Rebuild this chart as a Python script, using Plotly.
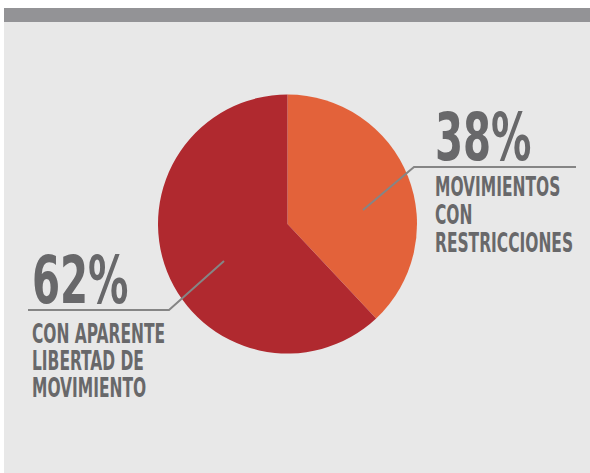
import json
import plotly.graph_objects as go

W, H = 590, 473

labels = ["MOVIMIENTOS CON RESTRICCIONES", "CON APARENTE LIBERTAD DE MOVIMIENTO"]
values = [38, 62]
pct_labels = ["38%", "62%"]
desc_right = ["MOVIMIENTOS", "CON", "RESTRICCIONES"]
desc_left = ["CON APARENTE", "LIBERTAD DE", "MOVIMIENTO"]
colors = ["#e3623a", "#b0292f"]

def px(x):
    return x / W

def py(y):
    return 1 - y / H

cx, cy, r = 287.5, 224, 129.5

fig = go.Figure(go.Pie(
    labels=labels, values=values, sort=False, direction="clockwise", rotation=0,
    marker=dict(colors=colors, line=dict(width=0)),
    textinfo="none", hoverinfo="label+percent", showlegend=False,
    domain=dict(x=[px(cx - r), px(cx + r)], y=[py(cy + r), py(cy - r)]),
))

shapes = [
    dict(type="rect", xref="paper", yref="paper", x0=px(4), x1=1, y0=0, y1=py(22),
         fillcolor="#e8e8e8", line=dict(width=0), layer="below"),
    dict(type="rect", xref="paper", yref="paper", x0=px(4), x1=1, y0=py(22), y1=py(8),
         fillcolor="#939396", line=dict(width=0), layer="below"),
]

def leader(points):
    d = "M " + " L ".join(f"{px(x)},{py(y)}" for x, y in points)
    return dict(type="path", xref="paper", yref="paper", path=d,
                line=dict(color="#858585", width=2), layer="above")

shapes.append(leader([(363, 210), (414, 167), (576, 167)]))
shapes.append(leader([(224, 261), (169, 310), (28, 310)]))

FAM = "DejaVu Sans Condensed"
TXT = "#68686a"
font_big = dict(family=FAM, size=54, color=TXT, weight="bold")
font_small = dict(family=FAM, size=20, color=TXT, weight="bold")

def ann(text, x, y, font):
    return dict(text=text, x=px(x), y=py(y), xref="paper", yref="paper",
                xanchor="left", yanchor="middle", showarrow=False, font=font, align="left")

annotations = [ann(pct_labels[0], 433, 137.5, font_big), ann(pct_labels[1], 30, 280, font_big)]
for text, yy in zip(desc_right, [187.5, 215.5, 242.5]):
    annotations.append(ann(text, 433, yy, font_small))
for text, yy in zip(desc_left, [334, 361, 387.5]):
    annotations.append(ann(text, 30, yy, font_small))

fig.update_layout(
    width=W, height=H, margin=dict(l=0, r=0, t=0, b=0),
    paper_bgcolor="#ffffff", plot_bgcolor="#ffffff",
    shapes=shapes, annotations=annotations,
)

# narrow, tall lettering like the reference's condensed display face
scales = {"big": [0.83, 1.22], "small": [0.86, 1.30]}
post = """
document.body.style.margin='0';
document.body.style.overflow='hidden';
var SC = %s;
var gd = document.querySelector('.plotly-graph-div');
function squash(){
  gd.querySelectorAll('g.annotation').forEach(function(g){
    var t = g.querySelector('text.annotation-text');
    if(!t) return;
    var fs = parseFloat(t.style.fontSize);
    var s = fs > 30 ? SC.big : SC.small;
    t.removeAttribute('transform');
    var b = t.getBBox();
    var ox = b.x, oy = b.y + b.height/2;
    t.setAttribute('transform', 'translate('+ox+','+oy+') scale('+s[0]+','+s[1]+') translate('+(-ox)+','+(-oy)+')');
  });
}
squash();
""" % json.dumps(scales)

fig.write_html("out.html", config={"displayModeBar": False}, post_script=post)
